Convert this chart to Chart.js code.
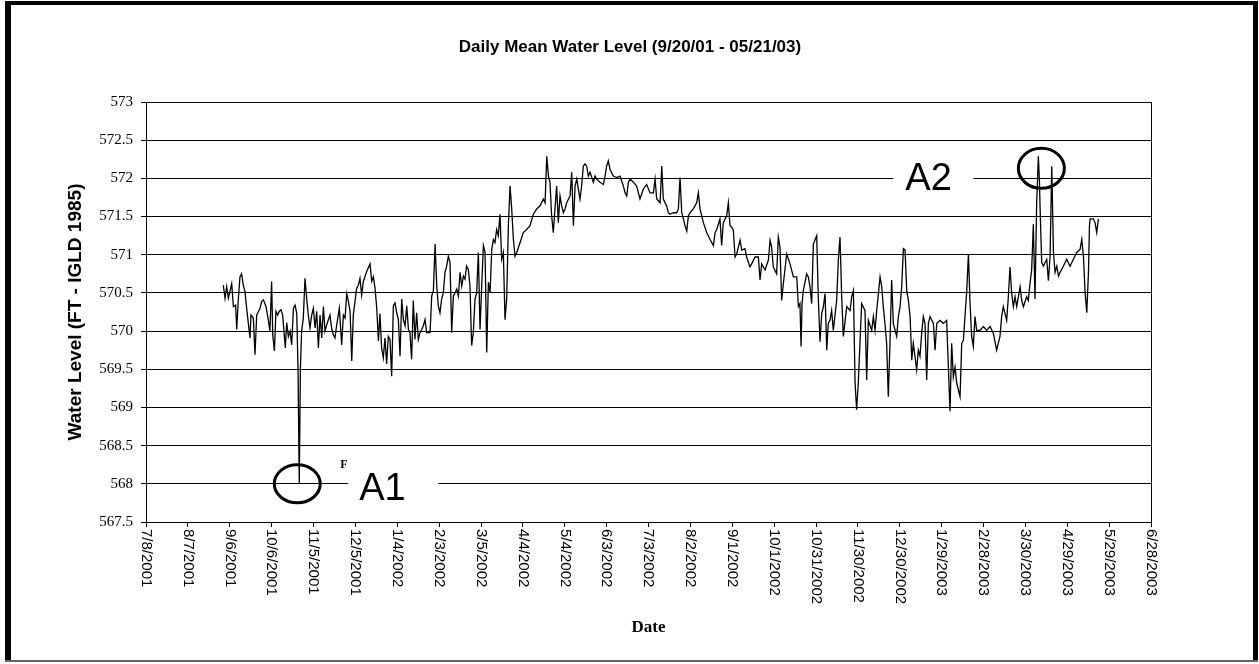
<!DOCTYPE html>
<html><head><meta charset="utf-8">
<script src="https://cdn.jsdelivr.net/npm/chart.js@4.4.1/dist/chart.umd.min.js"></script>
<style>html,body{margin:0;padding:0;background:#fff;}canvas{display:block;}</style>
</head><body>
<canvas id="c" width="1259" height="664"></canvas>
<script>
const chartTitle = 'Daily Mean Water Level (9/20/01 - 05/21/03)';
const yAxisTitle = 'Water Level (FT - IGLD 1985)';
const xAxisTitle = 'Date';
const xTickLabels = ['7/8/2001','8/7/2001','9/6/2001','10/6/2001','11/5/2001','12/5/2001','1/4/2002','2/3/2002','3/5/2002','4/4/2002','5/4/2002','6/3/2002','7/3/2002','8/2/2002','9/1/2002','10/1/2002','10/31/2002','11/30/2002','12/30/2002','1/29/2003','2/28/2003','3/30/2003','4/29/2003','5/29/2003','6/28/2003'];
const tickStepDays = 30;
// days counted from 7/8/2001 (the first x-axis label)
const sampleDays = [
55.4,56.6,57.8,59.0,61.4,62.6,64.2,65.0,66.2,67.3,
68.5,69.7,70.9,72.1,74.5,75.2,76.9,78.1,79.3,81.7,
82.9,84.1,86.0,87.6,88.8,90.0,90.8,92.0,93.1,94.3,
95.5,96.7,97.9,98.9,99.8,100.8,102.0,103.2,104.4,105.6,
106.8,108.0,108.9,109.8,110.6,111.5,112.7,113.9,115.1,116.3,
117.5,118.7,119.9,121.1,122.3,123.5,124.7,125.9,127.1,128.2,
129.4,131.8,133.0,134.2,135.4,136.6,138.5,140.2,141.4,142.6,
143.8,145.0,146.2,147.4,148.5,150.9,152.1,153.3,154.5,155.7,
158.1,160.5,161.7,162.9,164.1,165.3,166.5,167.6,168.8,170.0,
171.2,172.4,173.6,174.8,176.0,177.2,178.4,179.6,180.8,182.0,
183.2,184.4,185.6,186.8,188.0,189.1,190.3,191.5,192.7,193.9,
195.1,196.3,197.5,198.7,199.9,201.1,202.3,203.5,204.7,205.9,
207.1,208.3,209.4,210.6,211.8,213.0,214.2,215.4,216.6,217.8,
219.0,220.2,221.4,222.6,223.8,225.0,226.2,227.4,228.5,229.7,
230.9,232.1,233.3,234.5,235.7,236.9,238.1,239.3,240.5,241.7,
242.9,244.1,245.3,246.5,247.7,248.9,250.0,251.2,252.4,253.6,
254.8,256.0,257.2,258.4,259.6,260.8,262.0,263.2,264.4,265.6,
268.0,270.3,272.7,275.1,277.5,279.9,282.3,284.7,285.9,287.1,
288.3,289.4,290.6,291.8,293.0,294.2,295.4,296.6,297.8,299.0,
300.2,301.4,303.8,305.0,306.2,307.4,308.6,310.9,312.1,313.3,
314.5,315.7,316.9,318.1,320.5,321.7,322.9,325.3,327.7,328.9,
330.0,331.2,332.4,334.8,337.2,339.6,342.0,343.2,344.4,345.6,
346.8,349.2,351.5,353.9,356.3,358.7,361.1,363.5,364.7,365.9,
368.3,369.5,370.6,373.0,374.2,375.4,377.8,380.2,381.4,382.6,
383.8,385.0,386.2,387.4,388.6,389.8,392.1,394.5,395.7,396.9,
399.3,401.7,404.1,406.5,407.7,408.9,411.2,412.4,413.6,416.0,
417.2,418.4,419.6,420.8,422.0,423.2,425.6,426.8,429.1,430.3,
432.7,433.9,436.3,438.7,439.9,441.1,443.5,445.9,447.1,448.2,
449.4,451.8,453.0,454.2,455.4,456.6,459.0,461.4,463.8,466.2,
467.4,468.5,469.3,470.0,470.9,473.3,474.5,475.7,476.9,478.1,
480.5,481.7,482.9,484.1,485.3,486.5,487.7,488.8,490.0,491.2,
492.4,494.8,496.0,497.2,498.4,499.6,502.0,504.4,505.6,506.8,
508.0,509.1,510.3,512.7,515.1,516.3,517.5,519.9,521.1,522.3,
523.5,525.9,527.1,528.2,529.4,530.6,531.8,533.0,534.2,535.4,
537.8,539.0,540.2,541.4,542.6,543.8,545.0,546.2,547.4,548.6,
549.7,550.9,552.1,553.3,554.5,555.7,556.9,558.1,559.3,560.5,
561.7,564.1,565.3,566.5,568.8,571.2,573.6,576.0,577.2,578.4,
579.6,580.8,583.2,584.4,585.6,588.0,589.2,590.3,591.5,592.7,
593.9,595.1,597.5,599.9,602.3,604.7,607.1,609.4,611.8,613.0,
614.2,616.6,617.8,619.0,620.2,621.4,622.6,623.8,626.2,627.4,
628.6,630.9,632.1,633.3,634.5,635.7,636.9,638.1,639.3,640.1,
640.5,641.7,642.9,645.3,646.5,647.7,648.9,649.6,650.1,651.3,
652.5,653.7,654.9,657.2,659.6,662.0,664.4,666.8,669.2,670.4,
671.6,672.8,674.0,675.2,675.9,676.4,678.7,679.9,681.1,682.3
];
const waterLevel = [
570.60,570.43,570.58,570.43,570.62,570.32,570.34,570.02,570.43,570.71,
570.75,570.60,570.52,570.30,569.91,570.21,570.17,569.69,570.21,570.30,
570.39,570.41,570.32,570.15,570.00,570.65,569.95,569.74,570.26,570.21,
570.26,570.28,570.21,569.98,569.78,570.11,569.93,570.00,569.82,570.30,
570.34,570.23,569.52,568.00,569.50,570.00,570.17,570.69,570.43,570.21,
570.04,570.21,570.30,570.04,570.26,569.78,570.21,569.91,570.32,570.00,
570.08,570.21,570.04,569.95,569.91,570.08,570.30,569.82,570.21,570.17,
570.49,570.39,570.26,569.61,570.21,570.56,570.60,570.69,570.47,570.65,
570.78,570.88,570.65,570.71,570.56,570.30,569.87,570.23,569.78,569.65,
569.91,569.57,569.93,569.89,569.41,570.33,570.37,570.24,570.15,569.67,
570.42,570.15,570.07,570.33,570.02,569.98,569.63,570.40,569.89,570.24,
569.89,569.98,570.02,570.07,570.15,569.98,569.98,569.98,570.46,570.53,
571.14,570.59,570.33,570.24,570.42,570.50,570.77,570.85,570.98,570.90,
569.98,570.46,570.50,570.55,570.46,570.77,570.59,570.72,570.68,570.85,
570.81,570.59,569.81,569.98,570.42,570.50,571.03,570.02,570.59,571.12,
571.03,569.72,570.64,570.50,571.07,571.20,571.16,571.33,571.25,571.53,
570.94,571.03,570.15,570.42,571.38,571.90,571.60,571.20,570.98,571.03,
571.16,571.29,571.33,571.38,571.53,571.60,571.64,571.73,571.68,572.29,
572.03,571.95,571.51,571.29,571.60,571.90,571.42,571.77,571.64,571.55,
571.60,571.68,571.77,572.08,571.38,571.90,571.99,571.73,571.90,572.16,
572.19,572.16,572.03,572.08,571.95,572.03,571.99,571.95,571.92,572.03,
572.16,572.23,572.12,572.03,572.01,572.03,571.90,571.81,571.77,571.95,
571.99,571.95,571.90,571.73,571.86,571.92,571.81,571.81,571.99,571.73,
571.68,572.16,571.73,571.64,571.55,571.53,571.55,571.55,571.60,572.01,
571.55,571.47,571.38,571.31,571.51,571.55,571.60,571.68,571.81,571.60,
571.42,571.29,571.20,571.12,571.29,571.33,571.47,571.12,571.42,571.51,
571.68,571.38,571.36,571.32,570.97,571.01,571.19,571.06,571.08,570.97,
570.84,570.88,570.97,570.97,570.67,570.88,570.80,570.93,571.19,571.10,
570.84,570.75,571.23,571.10,570.40,570.62,571.01,570.88,570.71,570.71,
570.32,570.36,569.80,570.36,570.53,570.75,570.71,570.58,570.36,571.14,
571.25,570.40,569.86,570.23,570.32,570.49,569.75,570.10,570.14,570.27,
570.01,570.40,570.93,571.23,570.45,569.93,570.32,570.27,570.45,570.53,
569.32,568.97,569.32,570.36,570.27,569.36,570.14,570.01,570.19,570.01,
570.27,570.71,570.58,570.32,570.10,569.84,569.14,569.84,570.67,570.10,
569.93,570.19,570.32,570.58,571.08,571.06,570.53,570.40,570.19,569.62,
569.84,569.67,569.49,569.75,569.67,569.97,570.19,570.10,569.36,570.10,
570.19,570.10,569.75,570.10,570.14,570.10,570.14,568.95,569.84,569.40,
569.53,569.32,569.14,569.84,569.88,570.53,571.01,570.40,569.93,569.80,
570.19,570.01,570.01,570.06,570.01,570.06,569.97,569.75,569.93,570.19,
570.32,570.14,570.45,570.84,570.49,570.32,570.45,570.32,570.58,570.40,
570.32,570.45,570.40,570.62,570.80,571.40,570.42,571.68,572.29,571.95,
571.64,570.90,570.85,570.94,570.66,570.98,572.16,571.51,571.03,570.77,
570.85,570.72,570.77,570.85,570.94,570.85,570.94,571.03,571.07,571.20,
570.98,570.50,570.24,570.77,571.38,571.47,571.47,571.42,571.29,571.47
];
const yMin = 567.5, yMax = 573, yStep = 0.5;
const a1Index = 43, a1Value = 568;
const a2Index = 408, a2Value = 572;

const points = waterLevel.map((v, i) => ({x: sampleDays[i], y: v}));
const xMax = (xTickLabels.length - 1) * tickStepDays;

const decor = {
  id: 'decor',
  beforeDraw(chart) {
    const ctx = chart.ctx;
    ctx.save(); ctx.fillStyle = '#fff'; ctx.fillRect(0, 0, chart.width, chart.height); ctx.restore();
  },
  afterDraw(chart) {
    const {ctx, chartArea: a, scales: {x, y}} = chart;
    ctx.save();
    ctx.strokeStyle = '#000'; ctx.lineWidth = 1;
    ctx.beginPath(); ctx.moveTo(Math.round(a.right) + 0.5, a.top); ctx.lineTo(Math.round(a.right) + 0.5, a.bottom); ctx.stroke();
    ctx.fillStyle = '#000';
    ctx.font = '15px "Liberation Sans", Arial, sans-serif';
    x.ticks.forEach((t, k) => {
      const px = x.getPixelForValue(t.value);
      ctx.save();
      ctx.translate(px, a.bottom + 7);
      ctx.rotate(Math.PI / 2);
      ctx.textAlign = 'left'; ctx.textBaseline = 'middle';
      ctx.fillText(xTickLabels[k], 0, 0);
      ctx.restore();
    });
    ctx.font = 'bold 17px "Liberation Sans", Arial, sans-serif';
    ctx.textAlign = 'center'; ctx.textBaseline = 'middle';
    ctx.fillText(chartTitle, 630, 47);
    let px = x.getPixelForValue(sampleDays[a1Index]), py = y.getPixelForValue(a1Value);
    ctx.fillStyle = '#fff'; ctx.fillRect(px + 49, py - 18, 90, 36);
    ctx.strokeStyle = '#000'; ctx.lineWidth = 3;
    ctx.beginPath(); ctx.ellipse(px - 2, py, 23, 19, 0, 0, Math.PI * 2); ctx.stroke();
    ctx.fillStyle = '#000';
    ctx.font = 'bold 12px "Liberation Serif", serif';
    ctx.textAlign = 'left'; ctx.textBaseline = 'alphabetic';
    ctx.fillText('F', px + 41, py - 16);
    ctx.font = '38px "Liberation Sans", Arial, sans-serif';
    ctx.fillText('A1', px + 60, py + 16);
    px = x.getPixelForValue(sampleDays[a2Index]); py = y.getPixelForValue(a2Value);
    ctx.fillStyle = '#fff'; ctx.fillRect(px - 145, py - 18, 80, 36);
    ctx.beginPath(); ctx.ellipse(px + 3, py - 10, 23, 20, 0, 0, Math.PI * 2); ctx.stroke();
    ctx.fillStyle = '#000';
    ctx.fillText('A2', px - 133, py + 12);
    ctx.fillStyle = '#000';
    ctx.fillRect(5, 1, 6, 660);
    ctx.fillRect(5, 1, 1253, 4);
    ctx.fillRect(1253, 1, 5, 660);
    ctx.fillStyle = '#666';
    ctx.fillRect(5, 660, 1253, 2);
    ctx.restore();
  }
};

new Chart(document.getElementById('c'), {
  type: 'line',
  data: {
    datasets: [{
      data: points,
      borderColor: '#000',
      borderWidth: 1.3,
      pointRadius: 0,
      tension: 0,
      fill: false
    }]
  },
  options: {
    responsive: false,
    animation: false,
    devicePixelRatio: 1,
    layout: {padding: {top: 102, right: 108, bottom: 0, left: 0}},
    plugins: {legend: {display: false}, tooltip: {enabled: false}, title: {display: false}},
    scales: {
      x: {
        type: 'linear', min: 0, max: xMax,
        afterFit(s) { s.height = 142; },
        afterBuildTicks(s) { s.ticks = xTickLabels.map((_, k) => ({value: k * tickStepDays})); },
        ticks: {display: false},
        grid: {display: true, drawOnChartArea: false, drawTicks: true, tickLength: 5, color: '#000'},
        border: {display: true, color: '#000', width: 1},
        title: {display: true, text: xAxisTitle, color: '#000',
          font: {family: '"Liberation Serif", serif', size: 17, weight: 'bold'},
          padding: {top: 0, bottom: 26}}
      },
      y: {
        type: 'linear', min: yMin, max: yMax,
        afterFit(s) { s.width = 146; },
        ticks: {stepSize: yStep, color: '#000', padding: 8,
          font: {family: '"Liberation Serif", serif', size: 15},
          callback: v => String(v)},
        grid: {color: '#000', lineWidth: 1, drawTicks: true, tickLength: 5},
        border: {display: true, color: '#000', width: 1},
        title: {display: true, text: yAxisTitle, color: '#000',
          font: {family: '"Liberation Sans", Arial, sans-serif', size: 19, weight: 'bold'},
          padding: {top: 64, bottom: 0}}
      }
    }
  },
  plugins: [decor]
});
</script>
</body></html>
